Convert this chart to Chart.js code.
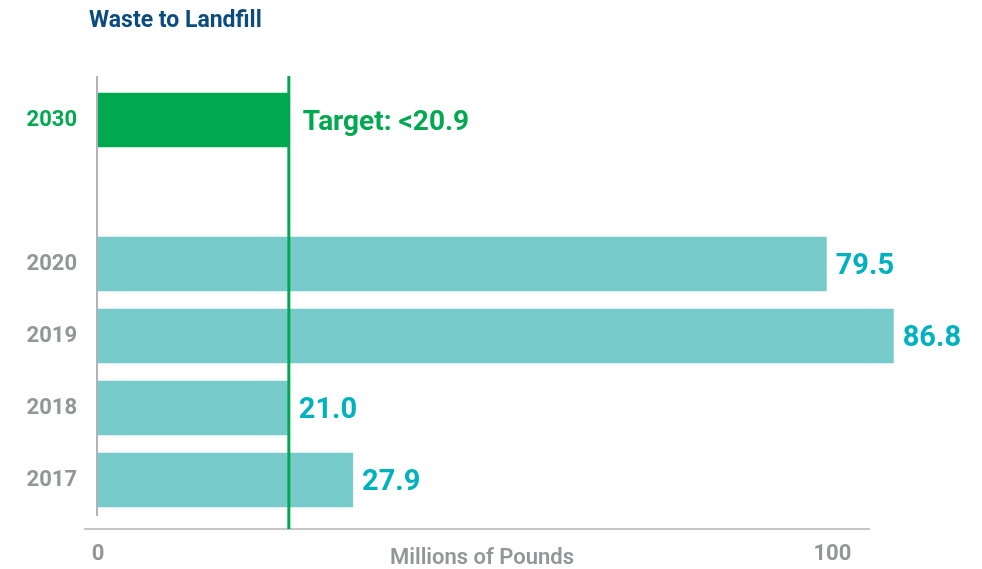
<!DOCTYPE html>
<html>
<head>
<meta charset="utf-8">
<script src="https://cdn.jsdelivr.net/npm/chart.js@4.4.0/dist/chart.umd.min.js"></script>
<style>
html,body{margin:0;padding:0;background:#ffffff;}
#wrap{width:982px;height:569px;position:relative;}
</style>
</head>
<body>
<div id="wrap"><canvas id="c" width="982" height="569"></canvas></div>
<script>
// ---- data ----
const chartTitle = "Waste to Landfill";
const categories = ["2030", "", "2020", "2019", "2018", "2017"];
const targetValue = 20.9;
const targetLabel = "Target: <20.9";
const actualYears = ["2020", "2019", "2018", "2017"];
const actualValues = [79.5, 86.8, 21.0, 27.9];
const xTickValues = [0, 80];
const xTickLabels = ["0", "100"];
const xAxisTitle = "Millions of Pounds";

// ---- styles ----
const FONT = "Roboto, 'Open Sans', Arial, sans-serif";
const GREEN = "#00a94f";
const TEAL_BAR = "#77cccb";
const TEAL_TEXT = "#00b2bd";
const GRAY = "#939598";
const AXIS_GRAY = "#b1b3b6";
const NAVY = "#0c4b7e";

const barValues = categories.map((c, i) => {
  if (i === 0) return targetValue;
  const k = actualYears.indexOf(c);
  return k >= 0 ? actualValues[k] : null;
});
const barColors = categories.map((c, i) => i === 0 ? GREEN : TEAL_BAR);

const decor = {
  id: 'decor',
  afterDatasetsDraw(chart) {
    const ctx = chart.ctx;
    const area = chart.chartArea;
    const xs = chart.scales.x;
    ctx.save();
    // vertical gray axis
    ctx.strokeStyle = AXIS_GRAY;
    ctx.lineWidth = 2;
    ctx.beginPath();
    ctx.moveTo(area.left, area.top - 8);
    ctx.lineTo(area.left, area.bottom);
    ctx.stroke();
    // bottom horizontal axis
    ctx.lineWidth = 1.5;
    ctx.beginPath();
    ctx.moveTo(area.left - 13, area.bottom + 13);
    ctx.lineTo(xs.getPixelForValue(84.2), area.bottom + 13);
    ctx.stroke();
    // target line
    const tx = xs.getPixelForValue(targetValue);
    ctx.strokeStyle = GREEN;
    ctx.lineWidth = 3;
    ctx.beginPath();
    ctx.moveTo(tx, area.top - 8);
    ctx.lineTo(tx, area.bottom + 13);
    ctx.stroke();

    // value labels
    const meta = chart.getDatasetMeta(0);
    meta.data.forEach((bar, i) => {
      const v = barValues[i];
      if (v === null || v === undefined) return;
      ctx.textAlign = 'left';
      ctx.textBaseline = 'alphabetic';
      if (i === 0) {
        const size = 28;
        ctx.font = `bold ${size}px ${FONT}`;
        ctx.fillStyle = GREEN;
        ctx.fillText(targetLabel, bar.x + 14, bar.y + size * 0.355);
      } else {
        const size = 29;
        ctx.font = `bold ${size}px ${FONT}`;
        ctx.fillStyle = TEAL_TEXT;
        ctx.fillText(v.toFixed(1), bar.x + 9, bar.y + size * 0.355);
      }
    });

    // title
    ctx.font = `bold 23px ${FONT}`;
    ctx.fillStyle = NAVY;
    ctx.textAlign = 'left';
    ctx.textBaseline = 'alphabetic';
    ctx.fillText(chartTitle, 89, 27);

    // x axis title
    ctx.font = `600 22px ${FONT}`;
    ctx.fillStyle = GRAY;
    ctx.textAlign = 'center';
    ctx.fillText(xAxisTitle, 482, 564);
    ctx.restore();
  }
};

new Chart(document.getElementById('c').getContext('2d'), {
  type: 'bar',
  data: {
    labels: categories,
    datasets: [{
      data: barValues,
      backgroundColor: barColors,
      borderWidth: 0,
      categoryPercentage: 1,
      barPercentage: 0.76
    }]
  },
  options: {
    indexAxis: 'y',
    responsive: false,
    animation: false,
    devicePixelRatio: 1,
    layout: { padding: { top: 84, right: 13, bottom: 0, left: 0 } },
    plugins: {
      legend: { display: false },
      tooltip: { enabled: false },
      title: { display: false }
    },
    scales: {
      x: {
        type: 'linear',
        min: 0,
        max: 95,
        grid: { display: false, drawTicks: false },
        border: { display: false },
        afterBuildTicks: s => { s.ticks = xTickValues.map(v => ({ value: v })); },
        ticks: {
          padding: 25,
          autoSkip: false,
          maxRotation: 0,
          labelOffset: 1,
          font: { family: FONT, size: 22, weight: 'bold' },
          color: GRAY,
          callback: (v, i) => xTickLabels[i]
        },
        afterFit: s => { s.height = 53; }
      },
      y: {
        grid: { display: false, drawTicks: false },
        border: { display: false },
        ticks: {
          padding: 20,
          autoSkip: false,
          font: { family: FONT, size: 22, weight: 'bold' },
          color: c => c.index === 0 ? GREEN : GRAY
        },
        afterFit: s => { s.width = 97; }
      }
    }
  },
  plugins: [decor]
});
</script>
</body>
</html>
